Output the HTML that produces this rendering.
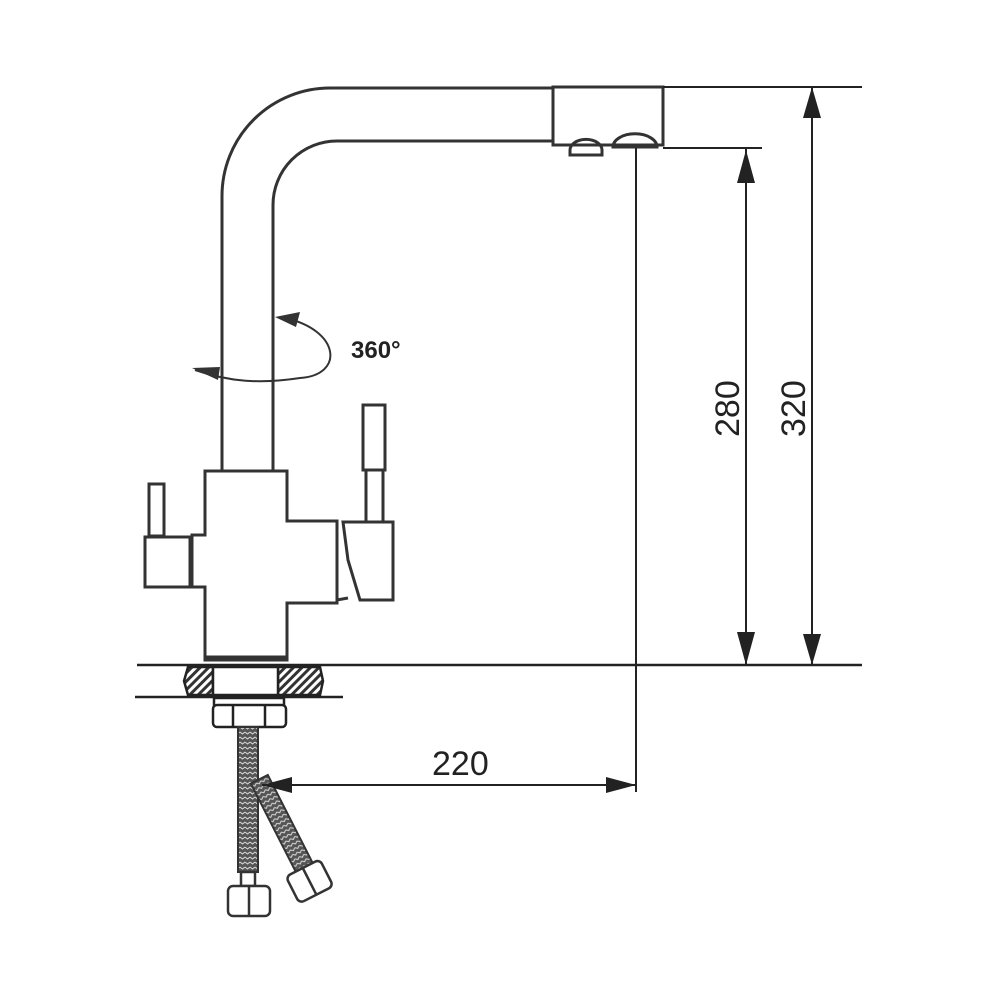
<!DOCTYPE html>
<html><head><meta charset="utf-8"><style>html,body{margin:0;padding:0;background:#fff}svg{display:block}</style></head><body>
<svg width="1000" height="1000" viewBox="0 0 1000 1000" xmlns="http://www.w3.org/2000/svg">
<defs>
<pattern id="h" width="6" height="6" patternUnits="userSpaceOnUse" patternTransform="rotate(45)"><rect width="6" height="6" fill="#fff"/><rect width="3" height="6" fill="#333"/></pattern>
<pattern id="b" width="5" height="5" patternUnits="userSpaceOnUse"><rect width="5" height="5" fill="#555"/><path d="M0 2 L2.5 4 L5 2" stroke="#ddd" stroke-width="1" fill="none"/></pattern>
</defs>
<g fill="none" stroke="#333" stroke-width="3">
<path d="M222 470 V196 A108 108 0 0 1 330 88 H555"/>
<path d="M273 470 V205 A64 64 0 0 1 337 141 H555"/>
<rect x="553" y="87" width="110" height="58" fill="#fff"/>
<path d="M570 155 V150 A15 10 0 0 1 602 150 V155 Z"/>
<path d="M613 147 A20 12 0 0 1 657 147 Z"/>
<path d="M205 471 H287 V521 H337 V603 H287 V657 H205 V587 H192 V535 H205 Z" fill="#fff"/>
<rect x="145" y="537" width="45" height="50" fill="#fff"/>
<rect x="149" y="484" width="15" height="52" fill="#fff"/>
<path d="M343 522 H393 V600 H360 L348 560 Z" fill="#fff"/>
<path d="M337 525 V600 L348 598"/>
<rect x="363" y="405" width="22" height="65" fill="#fff"/>
<rect x="366" y="470" width="17" height="52" fill="#fff"/>
<path d="M205 630 V660 H287 V630"/>
<path d="M285 318 C340 330 345 375 300 378 C260 384 230 382 195 370" stroke-width="2"/>
</g>
<polygon points="275,317 300,312 296,327" fill="#333"/>
<polygon points="192,368 220,367 218,380" fill="#333"/>
<text x="351" y="358" font-family="Liberation Sans, sans-serif" font-weight="bold" font-size="24" fill="#222">360°</text>
<g stroke="#222" stroke-width="2.5">
<line x1="137" y1="665" x2="862" y2="665"/>
<line x1="135" y1="697" x2="343" y2="697"/>
<path d="M188 667 H213 V695 H188 L184 681 Z" fill="url(#h)"/>
<path d="M278 667 H320 L323 681 L320 695 H278 Z" fill="url(#h)"/>
<rect x="213" y="667" width="65" height="28" fill="#fff"/>
<rect x="214" y="698" width="70" height="8" fill="#fff"/>
<rect x="213" y="705" width="73" height="22" rx="4" fill="#fff"/>
<line x1="233" y1="706" x2="233" y2="726"/><line x1="265" y1="706" x2="265" y2="726"/>
</g>
<rect x="238" y="727" width="20" height="145" fill="url(#b)" stroke="#333" stroke-width="2"/>
<g transform="rotate(-27 258 780)"><rect x="250" y="780" width="19" height="100" fill="url(#b)" stroke="#333" stroke-width="2"/></g>
<g stroke="#333" stroke-width="2.5" fill="#fff">
<rect x="241" y="872" width="14" height="14"/>
<rect x="228" y="886" width="42" height="30" rx="5"/><line x1="249" y1="887" x2="249" y2="915"/>
<g transform="rotate(-27 310 880)"><rect x="290" y="866" width="38" height="30" rx="5"/><line x1="309" y1="867" x2="309" y2="895"/></g>
</g>
<g stroke="#222" stroke-width="2">
<line x1="663" y1="87" x2="862" y2="87"/>
<line x1="663" y1="148" x2="762" y2="148"/>
<line x1="812" y1="87" x2="812" y2="665"/>
<line x1="746" y1="148" x2="746" y2="665"/>
<line x1="636" y1="148" x2="636" y2="792"/>
<line x1="262" y1="785" x2="636" y2="785"/>
</g>
<g fill="#222">
<polygon points="812,87 803,118 821,118"/><polygon points="812,665 803,634 821,634"/>
<polygon points="746,150 737,183 755,183"/><polygon points="746,665 737,632 755,632"/>
<polygon points="262,785 292,777 292,793"/><polygon points="636,785 606,777 606,793"/>
</g>
<g font-family="Liberation Sans, sans-serif" font-size="34" fill="#222">
<text x="432" y="775">220</text>
<text transform="translate(739 437) rotate(-90)">280</text>
<text transform="translate(805 437) rotate(-90)">320</text>
</g>
</svg>
</body></html>
